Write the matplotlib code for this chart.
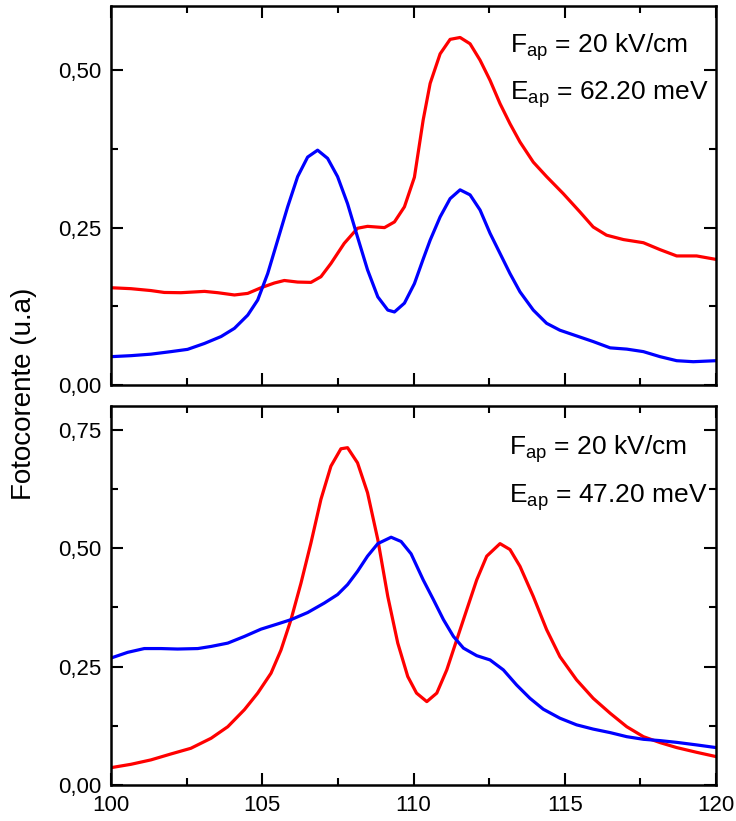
import matplotlib
matplotlib.use("Agg")
import matplotlib.pyplot as plt
from matplotlib.ticker import MultipleLocator, FuncFormatter

plt.rcParams['font.family'] = ['Liberation Sans', 'DejaVu Sans']
plt.rcParams['mathtext.fontset'] = 'custom'
plt.rcParams['mathtext.rm'] = 'Liberation Sans'
plt.rcParams['mathtext.it'] = 'Liberation Sans'

# ---- Top panel (E_ap = 62.20 meV) ----
top_red_x = [100.0, 100.66, 101.32, 101.76, 102.31, 103.09, 103.53, 104.08, 104.52, 104.96,
             105.40, 105.73, 106.17, 106.61, 106.94, 107.27, 107.71, 108.15, 108.48, 109.04,
             109.37, 109.70, 110.03, 110.32, 110.55, 110.88, 111.21, 111.54, 111.87, 112.20,
             112.53, 112.86, 113.19, 113.52, 113.96, 114.40, 114.95, 115.50, 115.94, 116.38,
             116.94, 117.60, 118.15, 118.70, 119.36, 120.0]
top_red_y = [0.1545, 0.153, 0.150, 0.147, 0.1466, 0.1487, 0.1466, 0.143, 0.1455, 0.1545,
             0.162, 0.166, 0.1635, 0.163, 0.172, 0.193, 0.225, 0.249, 0.252, 0.250,
             0.259, 0.283, 0.330, 0.421, 0.479, 0.526, 0.549, 0.552, 0.542, 0.516,
             0.484, 0.447, 0.415, 0.386, 0.354, 0.331, 0.304, 0.275, 0.251, 0.238,
             0.231, 0.226, 0.215, 0.205, 0.205, 0.1995]

top_blue_x = [100.0, 100.66, 101.32, 101.98, 102.53, 103.09, 103.64, 104.08, 104.52, 104.85,
              105.18, 105.51, 105.84, 106.17, 106.50, 106.83, 107.16, 107.49, 107.82, 108.15,
              108.48, 108.82, 109.15, 109.37, 109.70, 110.03, 110.32, 110.55, 110.88, 111.21,
              111.54, 111.87, 112.20, 112.53, 112.86, 113.19, 113.52, 113.96, 114.40, 114.84,
              115.39, 115.94, 116.50, 117.05, 117.60, 118.15, 118.70, 119.25, 120.0]
top_blue_y = [0.045, 0.0466, 0.049, 0.053, 0.0566, 0.066, 0.077, 0.090, 0.111, 0.135,
              0.177, 0.230, 0.283, 0.331, 0.362, 0.373, 0.360, 0.331, 0.288, 0.235,
              0.183, 0.140, 0.119, 0.116, 0.130, 0.161, 0.200, 0.230, 0.267, 0.296,
              0.310, 0.302, 0.278, 0.241, 0.209, 0.177, 0.148, 0.119, 0.098, 0.087,
              0.078, 0.069, 0.059, 0.057, 0.053, 0.045, 0.0386, 0.037, 0.0386]

# ---- Bottom panel (E_ap = 47.20 meV) ----
bot_red_x = [100.0, 100.66, 101.32, 101.98, 102.64, 103.31, 103.86, 104.41, 104.85, 105.29,
             105.62, 105.95, 106.28, 106.61, 106.94, 107.27, 107.60, 107.82, 108.15, 108.48,
             108.82, 109.15, 109.48, 109.81, 110.10, 110.44, 110.77, 111.10, 111.43, 111.76,
             112.09, 112.42, 112.86, 113.19, 113.52, 113.96, 114.40, 114.84, 115.39, 115.94,
             116.50, 117.05, 117.60, 118.15, 118.70, 119.36, 120.0]
bot_red_y = [0.0366, 0.0437, 0.053, 0.0655, 0.0775, 0.0987, 0.123, 0.159, 0.194, 0.236,
             0.285, 0.349, 0.426, 0.511, 0.603, 0.673, 0.7097, 0.712, 0.680, 0.617,
             0.518, 0.398, 0.2995, 0.229, 0.194, 0.176, 0.194, 0.243, 0.3066, 0.370,
             0.433, 0.483, 0.5095, 0.497, 0.4616, 0.398, 0.328, 0.271, 0.222, 0.183,
             0.1515, 0.123, 0.102, 0.0895, 0.079, 0.069, 0.060]

bot_blue_x = [100.0, 100.55, 101.10, 101.65, 102.20, 102.87, 103.31, 103.86, 104.41, 104.96,
              105.51, 105.95, 106.50, 107.05, 107.49, 107.82, 108.15, 108.48, 108.82, 109.26,
              109.59, 109.92, 110.32, 110.66, 110.99, 111.32, 111.65, 112.09, 112.53, 112.97,
              113.41, 113.85, 114.29, 114.84, 115.39, 115.94, 116.50, 117.05, 117.60, 118.15,
              118.70, 119.36, 120.0]
bot_blue_y = [0.268, 0.280, 0.288, 0.288, 0.287, 0.288, 0.2925, 0.2995, 0.3136, 0.329,
              0.340, 0.349, 0.364, 0.384, 0.402, 0.423, 0.451, 0.483, 0.5095, 0.523,
              0.514, 0.488, 0.433, 0.391, 0.349, 0.3136, 0.289, 0.273, 0.264, 0.243,
              0.211, 0.183, 0.160, 0.141, 0.127, 0.118, 0.1106, 0.102, 0.0965, 0.0937,
              0.090, 0.0846, 0.079]

x_ticks = [100, 105, 110, 115, 120]
top_yticks = [0.0, 0.25, 0.5]
bot_yticks = [0.0, 0.25, 0.5, 0.75]
top_label = [r'F$_{\mathrm{ap}}$ = 20 kV/cm', r'E$_{\mathrm{ap}}$ = 62.20 meV']
bot_label = [r'F$_{\mathrm{ap}}$ = 20 kV/cm', r'E$_{\mathrm{ap}}$ = 47.20 meV']

W, H = 736, 821
fig = plt.figure(figsize=(W / 100, H / 100), dpi=100)

def px_box(x0, y0, x1, y1):
    return [x0 / W, 1 - y1 / H, (x1 - x0) / W, (y1 - y0) / H]

ax1 = fig.add_axes(px_box(111, 6, 716, 385))
ax2 = fig.add_axes(px_box(111, 406, 716, 785))

comma = FuncFormatter(lambda v, p: f"{v:.2f}".replace('.', ','))

for ax, ylim, yt in [(ax1, 0.602, top_yticks), (ax2, 0.80, bot_yticks)]:
    ax.set_xlim(100, 120)
    ax.set_ylim(0, ylim)
    ax.set_xticks(x_ticks)
    ax.set_yticks(yt)
    ax.xaxis.set_minor_locator(MultipleLocator(2.5))
    ax.yaxis.set_minor_locator(MultipleLocator(0.125))
    ax.yaxis.set_major_formatter(comma)
    ax.tick_params(which='both', direction='in', top=True, right=True, width=1.5,
                   labelsize=16, pad=7)
    ax.tick_params(which='major', length=8.5)
    ax.tick_params(which='minor', length=5)
    for s in ax.spines.values():
        s.set_linewidth(1.8)

ax1.tick_params(labelbottom=False)

lw = 2.3
kw = dict(lw=lw, solid_joinstyle='round', solid_capstyle='round')
ax1.plot(top_red_x, top_red_y, color='#ff0000', **kw)
ax1.plot(top_blue_x, top_blue_y, color='#0000ff', **kw)
ax2.plot(bot_red_x, bot_red_y, color='#ff0000', **kw)
ax2.plot(bot_blue_x, bot_blue_y, color='#0000ff', **kw)

def ftxt(x, y, s):
    fig.text(x / W, 1 - y / H, s, fontsize=19, ha='left', va='baseline')

ftxt(510, 53, top_label[0])
ftxt(510, 100, top_label[1])
ftxt(509, 455, bot_label[0])
ftxt(509, 503, bot_label[1])

fig.text(24 / W, 1 - 394 / H, 'Fotocorente (u.a)', rotation=90, fontsize=20,
         ha='center', va='center')

fig.savefig('out.png', dpi=100)
